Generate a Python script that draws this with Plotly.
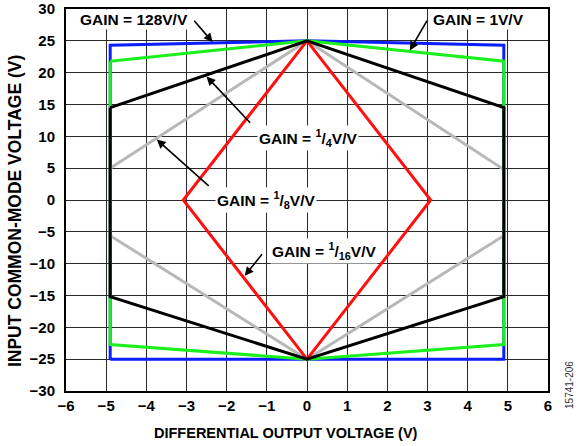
import plotly.graph_objects as go

# Common-mode range vs differential output, one closed outline per gain
gains = ["128V/V", "1V/V", "1/8V/V", "1/16V/V", "1/4V/V"]
colors = ["#0a1eff", "#1cf01c", "#b8b8b8", "#ff1010", "#000000"]

vout_128 = [-4.9, -4.9, 0, 4.9, 4.9, 0, -4.9]
vcm_128 = [-25, 24.3, 25, 24.3, -25, -25, -25]

vout_1 = [-4.9, 0, 4.9, 4.9, 0, -4.9, -4.9]
vcm_1 = [21.8, 25, 21.8, -22.7, -25, -22.7, 21.8]

vout_8th = [-4.9, 0, 4.9, 4.9, 0, -4.9, -4.9]
vcm_8th = [5.0, 25, 4.8, -5.6, -25, -5.6, 5.0]

vout_16th = [0, 3.08, 0, -3.08, 0]
vcm_16th = [25, 0, -25, 0, 25]

vout_4th = [-4.9, 0, 4.9, 4.9, 0, -4.9, -4.9]
vcm_4th = [14.5, 25, 14.5, -15.2, -25, -15.2, 14.5]

xs = [vout_128, vout_1, vout_8th, vout_16th, vout_4th]
ys = [vcm_128, vcm_1, vcm_8th, vcm_16th, vcm_4th]

x_ticks = list(range(-6, 7))
y_ticks = list(range(-30, 31, 5))

def minus(v):
    return str(v).replace("-", "\u2212")

FONT = "Liberation Sans, Arial, sans-serif"

fig = go.Figure()
for name, c, x, y in zip(gains, colors, xs, ys):
    fig.add_trace(go.Scatter(x=x, y=y, mode="lines", name=name,
                             line=dict(color=c, width=3)))

# labels with white boxes
labels = [
    ("GAIN = 128V/V", -4.3, 28.4),
    ("GAIN = 1V/V", 4.26, 28.4),
    ("GAIN = <sup>1</sup>/<sub>4</sub>V/V", 0.02, 9.8),
    ("GAIN = <sup>1</sup>/<sub>8</sub>V/V", -1.02, 0.0),
    ("GAIN = <sup>1</sup>/<sub>16</sub>V/V", 0.42, -8.0),
]
for txt, x, y in labels:
    fig.add_annotation(x=x, y=y, text=txt, showarrow=False, bgcolor="white",
                       borderpad=1, font=dict(family=FONT, size=15.5, color="black", weight="bold"))

# arrows: (head x, head y, tail x, tail y)
arrows = [
    (-2.35, 24.8, -2.84, 28.4),
    (2.56, 23.5, 3.01, 28.4),
    (-2.5, 19.4, -1.38, 11.9),
    (-3.74, 9.5, -2.41, 2.0),
    (-1.55, -11.9, -1.09, -8.3),
]
for hx, hy, tx, ty in arrows:
    fig.add_annotation(x=hx, y=hy, ax=tx, ay=ty, axref="x", ayref="y", text="",
                       showarrow=True, arrowhead=2, arrowsize=1.1, arrowwidth=1.6,
                       arrowcolor="black")

# axis titles sit a little off-centre in the original, so place them by hand
fig.add_annotation(x=0.4555, y=-0.11, xref="paper", yref="paper",
                   text="DIFFERENTIAL OUTPUT VOLTAGE (V)", showarrow=False,
                   xanchor="center", yanchor="middle",
                   font=dict(family=FONT, size=14.5, color="black", weight="bold"))
fig.add_annotation(x=-0.107, y=0.472, xref="paper", yref="paper",
                   text="INPUT COMMON-MODE VOLTAGE (V)", showarrow=False, textangle=-90,
                   xanchor="center", yanchor="middle",
                   font=dict(family=FONT, size=17.5, color="black", weight="bold"))

fig.add_annotation(x=1.0445, y=0.017, xref="paper", yref="paper", text="15741-206",
                   showarrow=False, textangle=-90, xanchor="center", yanchor="middle",
                   font=dict(family=FONT, size=10, color="#333"))

axis_common = dict(showgrid=True, gridcolor="#2a2a2a", gridwidth=1.3,
                   zeroline=False, showline=True, mirror=True, automargin=False,
                   linecolor="black", linewidth=2, ticks="",
                   tickfont=dict(family=FONT, size=15, color="black", weight="bold"))

fig.update_xaxes(range=[-6, 6], tickvals=x_ticks, ticktext=[minus(v) for v in x_ticks],
                 **axis_common)
fig.update_yaxes(range=[-30, 30], tickvals=y_ticks, ticktext=[minus(v) for v in y_ticks],
                 ticklabelstandoff=6, **axis_common)

fig.update_layout(width=582, height=446, showlegend=False,
                  plot_bgcolor="white", paper_bgcolor="white",
                  margin=dict(l=65.5, r=33.5, t=9, b=54.5))

# drop the default 8px page margin so the figure sits at the window corner
fig.write_html("out.html", config={"displayModeBar": False},
               post_script="document.body.style.margin='0px';")
